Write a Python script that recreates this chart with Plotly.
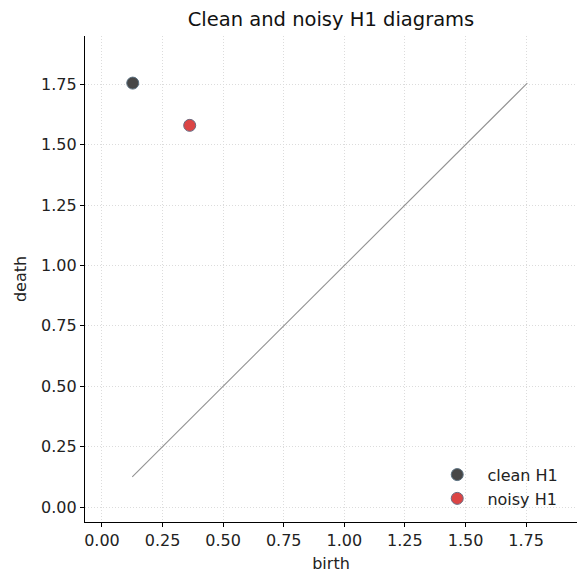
import plotly.graph_objects as go

clean_birth = [0.127]
clean_death = [1.755]
noisy_birth = [0.362]
noisy_death = [1.58]
diag = [0.125, 1.755]
ticks = [0, 0.25, 0.5, 0.75, 1.0, 1.25, 1.5, 1.75]
tick_text = ["0.00", "0.25", "0.50", "0.75", "1.00", "1.25", "1.50", "1.75"]

fig = go.Figure()
fig.add_trace(go.Scatter(x=diag, y=diag, mode="lines",
                         line=dict(color="#929292", width=1.1), showlegend=False, hoverinfo="skip"))
fig.add_trace(go.Scatter(x=clean_birth, y=clean_death, mode="markers", name="\u00a0\u00a0clean H1",
                         marker=dict(size=12, color="#474747", line=dict(color="#5a7080", width=1))))
fig.add_trace(go.Scatter(x=noisy_birth, y=noisy_death, mode="markers", name="\u00a0\u00a0noisy H1",
                         marker=dict(size=12, color="#dc4545", line=dict(color="#6a6a80", width=1))))

axis_common = dict(
    tickvals=ticks, ticktext=tick_text, showline=True, linecolor="black", linewidth=1.2,
    ticks="outside", ticklen=4, tickcolor="black", mirror=False, zeroline=False,
    showgrid=True, gridcolor="#dcdcdc", griddash="1px,2px", gridwidth=1,
    tickfont=dict(family="DejaVu Sans", size=16, color="#222"),
)
fig.update_xaxes(range=[-0.07, 1.96], title=dict(text="birth", font=dict(family="DejaVu Sans", size=16, color="#222"), standoff=8), **axis_common)
fig.update_yaxes(range=[-0.062, 1.95], title=dict(text="death", font=dict(family="DejaVu Sans", size=16, color="#222"), standoff=10), **axis_common)

fig.update_layout(
    width=587, height=587,
    margin=dict(l=85, r=10, t=36, b=65),
    plot_bgcolor="white", paper_bgcolor="white",
    title=dict(text="Clean and noisy H1 diagrams", x=(85 + 577) / 2 / 587, xanchor="center", y=1 - 19 / 587, yanchor="middle",
               font=dict(family="DejaVu Sans", size=19.5, color="#111")),
    legend=dict(x=0.972, y=0.013, xanchor="right", yanchor="bottom", bgcolor="rgba(255,255,255,0)",
                font=dict(family="DejaVu Sans", size=16, color="#222"), itemwidth=30,
                tracegroupgap=2),
    font=dict(family="DejaVu Sans"),
)
fig.write_html("out.html")
